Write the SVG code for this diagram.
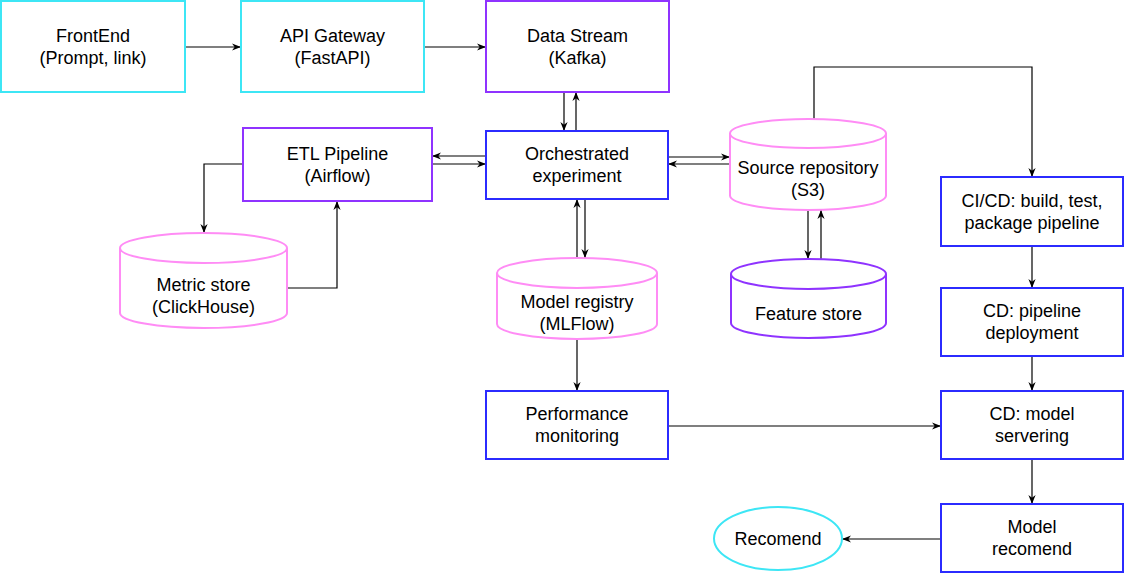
<svg xmlns="http://www.w3.org/2000/svg" width="1124" height="573" viewBox="0 0 1124 573">
<style>
  .n { fill: #ffffff; stroke-width: 2; }
  .cyan { stroke: #3de6f5; }
  .purple { stroke: #8f33ff; }
  .blue { stroke: #2b2bff; }
  .pink { stroke: #ff8cf5; }
  text { font-family: "Liberation Sans", Arial, Helvetica, sans-serif; font-size: 18px; fill: #000000; text-anchor: middle; }
  .e { fill: none; stroke: #000000; stroke-width: 1.2; marker-end: url(#arr); }
</style>
<defs>
  <marker id="arr" viewBox="0 0 10 10" refX="10" refY="5" markerWidth="9" markerHeight="9" markerUnits="userSpaceOnUse" orient="auto">
    <path d="M0,1 L10,5 L0,9 L3,5 Z" fill="#000000"/>
  </marker>
</defs>
<rect width="1124" height="573" fill="#ffffff"/>
<g id="connectors">
  <path class="e" d="M185,47 L241,47"/>
  <path class="e" d="M424,47 L486,47"/>
  <path class="e" d="M564,92 L564,131"/>
  <path class="e" d="M576,131 L576,92"/>
  <path class="e" d="M486,156 L432,156"/>
  <path class="e" d="M432,164 L486,164"/>
  <path class="e" d="M243,164 L204,164 L204,233"/>
  <path class="e" d="M287,288 L337,288 L337,201"/>
  <path class="e" d="M668,157 L730,157"/>
  <path class="e" d="M730,164 L668,164"/>
  <path class="e" d="M808,210 L808,259"/>
  <path class="e" d="M821,259 L821,210"/>
  <path class="e" d="M814,119 L814,67 L1032,67 L1032,177"/>
  <path class="e" d="M577,258 L577,199"/>
  <path class="e" d="M585,199 L585,258"/>
  <path class="e" d="M577,339 L577,391"/>
  <path class="e" d="M1032,246 L1032,288"/>
  <path class="e" d="M1032,356 L1032,391"/>
  <path class="e" d="M668,426 L941,426"/>
  <path class="e" d="M1032,459 L1032,504"/>
  <path class="e" d="M941,539 L842,539"/>
</g>
<g id="frontend">
  <rect class="n cyan" x="1" y="1" width="184" height="91"/>
  <text x="93" y="41.5">FrontEnd</text>
  <text x="93" y="63.5">(Prompt, link)</text>
</g>
<g id="api-gateway">
  <rect class="n cyan" x="241" y="1" width="183" height="91"/>
  <text x="332.5" y="41.5">API Gateway</text>
  <text x="332.5" y="63.5">(FastAPI)</text>
</g>
<g id="data-stream">
  <rect class="n purple" x="486" y="1" width="183" height="91"/>
  <text x="577.5" y="41.5">Data Stream</text>
  <text x="577.5" y="63.5">(Kafka)</text>
</g>
<g id="etl-pipeline">
  <rect class="n purple" x="243" y="128" width="189" height="73"/>
  <text x="337.5" y="159.5">ETL Pipeline</text>
  <text x="337.5" y="181.5">(Airflow)</text>
</g>
<g id="orchestrated-experiment">
  <rect class="n blue" x="486" y="131" width="182" height="68"/>
  <text x="577" y="160">Orchestrated</text>
  <text x="577" y="182">experiment</text>
</g>
<g id="source-repository">
  <path class="n pink" d="M730,133.5 A78,14.5 0 0 1 886,133.5 L886,195.5 A78,14.5 0 0 1 730,195.5 Z M730,133.5 A78,14.5 0 0 0 886,133.5"/>
  <text x="808" y="173.5">Source repository</text>
  <text x="808" y="195.5">(S3)</text>
</g>
<g id="metric-store">
  <path class="n pink" d="M120,248 A83.5,15 0 0 1 287,248 L287,313 A83.5,15 0 0 1 120,313 Z M120,248 A83.5,15 0 0 0 287,248"/>
  <text x="203.5" y="290.5">Metric store</text>
  <text x="203.5" y="312.5">(ClickHouse)</text>
</g>
<g id="model-registry">
  <path class="n pink" d="M497,273 A80,15 0 0 1 657,273 L657,324 A80,15 0 0 1 497,324 Z M497,273 A80,15 0 0 0 657,273"/>
  <text x="577" y="308">Model registry</text>
  <text x="577" y="330">(MLFlow)</text>
</g>
<g id="feature-store">
  <path class="n purple" d="M731,274 A77.5,15 0 0 1 886,274 L886,323 A77.5,15 0 0 1 731,323 Z M731,274 A77.5,15 0 0 0 886,274"/>
  <text x="808.5" y="319.5">Feature store</text>
</g>
<g id="cicd-build">
  <rect class="n blue" x="941" y="177" width="182" height="69"/>
  <text x="1032" y="206.5">CI/CD: build, test,</text>
  <text x="1032" y="228.5">package pipeline</text>
</g>
<g id="cd-pipeline-deployment">
  <rect class="n blue" x="941" y="288" width="182" height="68"/>
  <text x="1032" y="317">CD: pipeline</text>
  <text x="1032" y="339">deployment</text>
</g>
<g id="performance-monitoring">
  <rect class="n blue" x="486" y="391" width="182" height="68"/>
  <text x="577" y="420">Performance</text>
  <text x="577" y="442">monitoring</text>
</g>
<g id="cd-model-servering">
  <rect class="n blue" x="941" y="391" width="182" height="68"/>
  <text x="1032" y="420">CD: model</text>
  <text x="1032" y="442">servering</text>
</g>
<g id="model-recomend">
  <rect class="n blue" x="941" y="504" width="182" height="68"/>
  <text x="1032" y="533">Model</text>
  <text x="1032" y="555">recomend</text>
</g>
<g id="recomend">
  <ellipse class="n cyan" cx="778" cy="538.5" rx="64" ry="31.5"/>
  <text x="778" y="544.5">Recomend</text>
</g>
</svg>
